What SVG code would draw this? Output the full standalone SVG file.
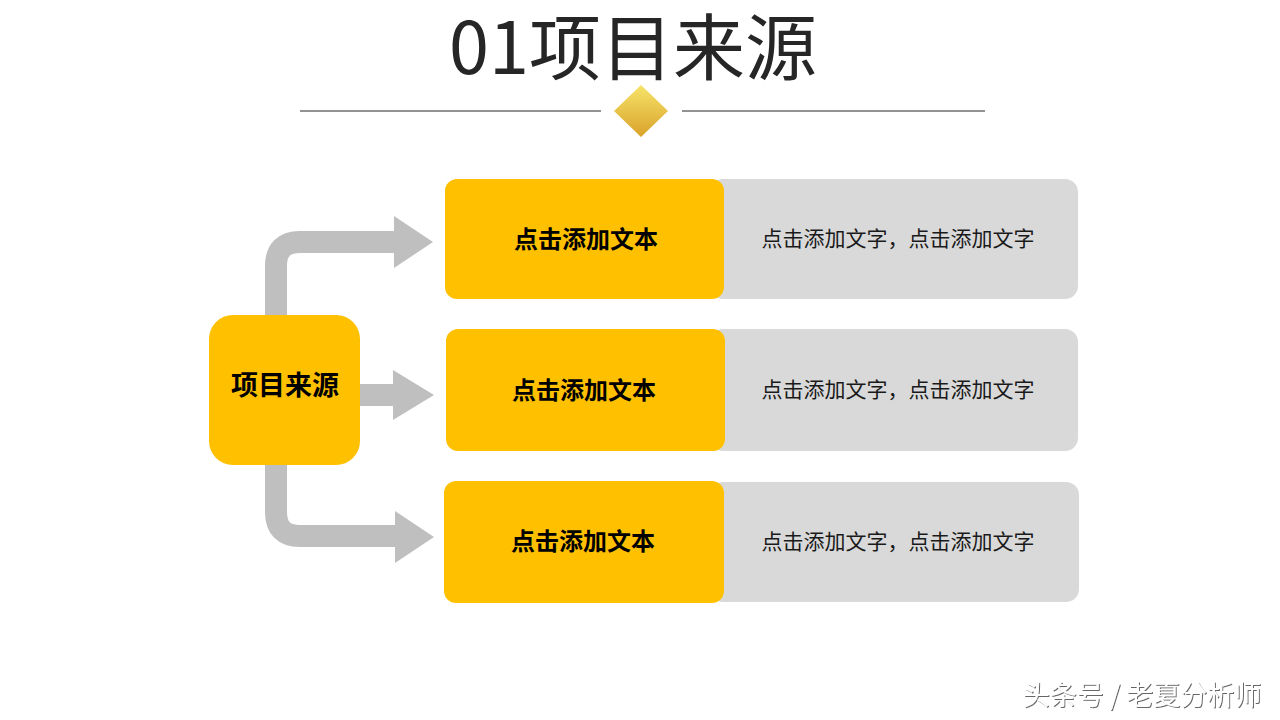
<svg xmlns="http://www.w3.org/2000/svg" width="1280" height="720" viewBox="0 0 1280 720">
<defs>
<linearGradient id="gold" x1="0" y1="0" x2="0" y2="1">
<stop offset="0" stop-color="#F7E36A"/>
<stop offset="1" stop-color="#D9A22A"/>
</linearGradient>
<filter id="wm" x="-5%" y="-30%" width="110%" height="160%">
<feDropShadow dx="1" dy="1" stdDeviation="0.6" flood-color="#555" flood-opacity="0.9"/>
</filter>
</defs>
<style>
.cjk{font-family:"Noto Sans CJK SC","Noto Sans",sans-serif}
.yb{fill:#FFC000}
.gb{fill:#D9D9D9}
.yt{font-size:24px;font-weight:700;fill:#000;text-anchor:middle}
.gt{font-size:21px;fill:#1a1a1a;text-anchor:middle}
.arr{fill:#BFBFBF}
.shaft{fill:none;stroke:#BFBFBF;stroke-width:22}
</style>
<rect width="1280" height="720" fill="#fff"/>
<g id="title">
<text class="cjk" x="633" y="74" font-size="72" fill="#262626" text-anchor="middle">01项目来源</text>
<line x1="300" y1="111" x2="601" y2="111" stroke="#262626" stroke-width="1"/>
<line x1="682" y1="111" x2="985" y2="111" stroke="#262626" stroke-width="1"/>
<polygon points="641,85 668,111 641,137 614,111" fill="url(#gold)"/>
</g>
<g id="connectors">
<path class="shaft" d="M276,318 V266 Q276,242 300,242 H396"/>
<polygon class="arr" points="394,216 433,242 394,268"/>
<path class="shaft" d="M358,395 H396"/>
<polygon class="arr" points="393,370 434,395 393,420"/>
<path class="shaft" d="M276,462 V512 Q276,536 300,536 H397"/>
<polygon class="arr" points="395,511 434,537 395,563"/>
</g>
<g id="source">
<rect class="yb" x="209" y="315" width="151" height="150" rx="24"/>
<text class="cjk yt" x="285" y="395" style="font-size:27px">项目来源</text>
</g>
<g id="row1">
<rect class="gb" x="710" y="179" width="368" height="120" rx="13"/>
<rect class="yb" x="445" y="179" width="279" height="120" rx="12"/>
<text class="cjk yt" x="586" y="248">点击添加文本</text>
<text class="cjk gt" x="898" y="246">点击添加文字，点击添加文字</text>
</g>
<g id="row2">
<rect class="gb" x="710" y="329" width="368" height="122" rx="13"/>
<rect class="yb" x="446" y="329" width="279" height="122" rx="12"/>
<text class="cjk yt" x="584" y="399">点击添加文本</text>
<text class="cjk gt" x="898" y="397">点击添加文字，点击添加文字</text>
</g>
<g id="row3">
<rect class="gb" x="710" y="482" width="369" height="120" rx="13"/>
<rect class="yb" x="444" y="481" width="280" height="122" rx="12"/>
<text class="cjk yt" x="583" y="550">点击添加文本</text>
<text class="cjk gt" x="898" y="549">点击添加文字，点击添加文字</text>
</g>
<g id="watermark">
<text class="cjk" x="1142" y="705" font-size="27" fill="#fff" text-anchor="middle" filter="url(#wm)">头条号 / 老夏分析师</text>
</g>
</svg>
